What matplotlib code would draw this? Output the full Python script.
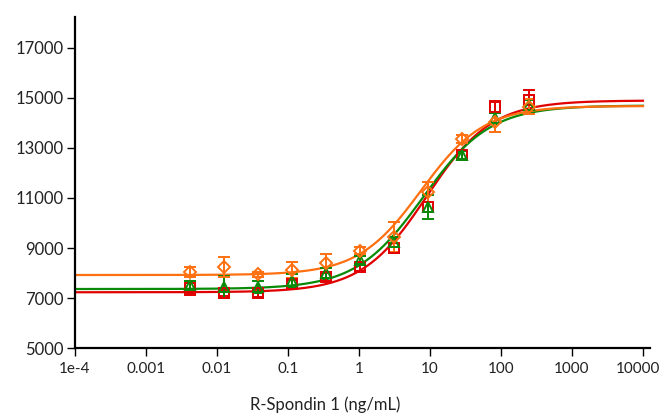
import numpy as np
import matplotlib
matplotlib.use("Agg")
import matplotlib.pyplot as plt
import matplotlib.transforms as mtransforms
from matplotlib.ticker import FixedLocator, NullLocator

plt.rcParams['font.family'] = ['Lato', 'DejaVu Sans']

# concentrations (3-fold dilution series from 250 ng/mL)
conc = [0.00423, 0.0127, 0.0381, 0.114, 0.343, 1.03, 3.09, 9.26, 27.8, 83.3, 250.0]

# series
red_y = [7400, 7200, 7200, 7560, 7840, 8240, 9000, 10640, 12720, 14640, 14900]
red_err = [280, 120, 150, 150, 150, 150, 200, 200, 150, 250, 400]
green_y = [7520, 7440, 7440, 7680, 8000, 8520, 9240, 10640, 12720, 14200, 14720]
green_err = [150, 450, 250, 270, 200, 150, 200, 480, 150, 200, 200]
orange_y = [8040, 8240, 7950, 8120, 8400, 8900, 9440, 11240, 13360, 14040, 14650]
orange_err = [200, 400, 100, 330, 360, 150, 600, 400, 150, 400, 300]

# 4PL fit parameters: bottom, top, EC50, hill
red_fit = [7230, 14900, 9.0, 0.95]
green_fit = [7360, 14700, 8.0, 0.92]
orange_fit = [7920, 14680, 7.5, 0.98]

series = [
    (red_y, red_err, red_fit, '#e00000', 's'),
    (green_y, green_err, green_fit, '#098a09', '^'),
    (orange_y, orange_err, orange_fit, '#ff7010', 'D'),
]

x_ticks = [1e-4, 1e-3, 1e-2, 1e-1, 1, 10, 100, 1000, 10000]
x_ticklabels = ['1e-4', '0.001', '0.01', '0.1', '1', '10', '100', '1000', '10000']
y_ticks = [5000, 7000, 9000, 11000, 13000, 15000, 17000]


def four_pl(x, p):
    bottom, top, ec50, hill = p
    return bottom + (top - bottom) / (1 + (ec50 / x) ** hill)


fig = plt.figure(figsize=(6.62, 4.15), dpi=100)
ax = fig.add_axes([0.1133, 0.1614, 0.8687, 0.7977])

xs = np.logspace(-4, 4, 400)
for y, err, fit, color, mk in series:
    ax.plot(xs, four_pl(xs, fit), color=color, lw=1.6, zorder=2)
    msize = 6 if mk == 'D' else 7
    ax.errorbar(conc, y, yerr=err, fmt=mk, color=color, mfc='none', mec=color,
                ms=msize, mew=1.4, elinewidth=1.4, capsize=4, capthick=1.4, zorder=3)

ax.set_xscale('log')
ax.set_xlim(1e-4, 1.26e4)
ax.set_ylim(5000, 18240)
ax.xaxis.set_major_locator(FixedLocator(x_ticks))
ax.xaxis.set_minor_locator(NullLocator())
ax.set_xticklabels(x_ticklabels)
ax.set_yticks(y_ticks)

for side in ['top', 'right']:
    ax.spines[side].set_visible(False)
for side in ['left', 'bottom']:
    ax.spines[side].set_linewidth(1.6)
ax.tick_params(axis='both', direction='out', length=6, width=1,
               colors='black', labelcolor='#222222')
ax.tick_params(axis='y', labelsize=12, pad=2)
ax.tick_params(axis='x', labelsize=11, pad=4)

# last label would run past the figure edge, nudge it left a little
last = ax.get_xticklabels()[-1]
last.set_transform(last.get_transform() +
                   mtransforms.ScaledTranslation(-5 / 100, 0, fig.dpi_scale_trans))

# axis title sits a bit left of the axes centre in the original
fig.text(325 / 662, 0.025, 'R-Spondin 1 (ng/mL)', ha='center', va='center',
         fontsize=12, color='#222222')

fig.savefig('out.png', dpi=100)
